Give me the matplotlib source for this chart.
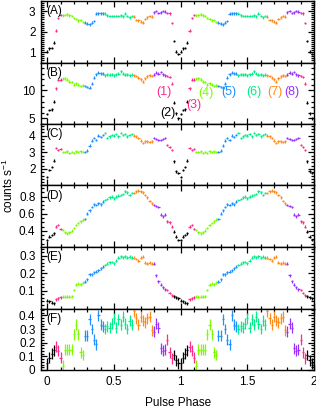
import numpy as np
import matplotlib.pyplot as plt
from matplotlib.ticker import MultipleLocator, FixedLocator, FuncFormatter

plt.rcParams['font.family'] = ['Liberation Sans', 'DejaVu Sans']
plt.rcParams['mathtext.fontset'] = 'custom'
plt.rcParams['mathtext.rm'] = 'Liberation Sans'
plt.rcParams['mathtext.default'] = 'regular'

# one pulse cycle, 60 phase bins (plotted twice)
n_bins = 60

rate_a = [1.03, 1.19, 1.22, 1.47, 2.05, 2.66, 2.82, 2.80, 2.82, 2.85,
          2.80, 2.78, 2.68, 2.62, 2.55, 2.58, 2.48, 2.45, 2.40, 2.36,
          2.45, 2.52, 2.88, 2.90, 2.90, 2.90, 2.88, 2.80, 2.78, 2.78,
          2.76, 2.78, 2.76, 2.80, 2.75, 2.88, 2.76, 2.70, 2.76, 2.74,
          2.58, 2.55, 2.50, 2.45, 2.62, 2.70, 2.78, 2.74, 2.95, 3.00,
          2.92, 2.95, 3.02, 2.98, 2.92, 2.90, 2.44, 1.56, 1.03, 0.91]
rate_b = [5.8, 6.5, 6.6, 8.0, 10.4, 11.9, 11.9, 12.1, 12.2, 11.9,
          11.6, 11.5, 11.0, 11.3, 11.0, 10.8, 10.9, 10.8, 10.6, 10.5,
          11.2, 12.3, 12.9, 13.2, 13.1, 13.0, 12.7, 12.9, 12.8, 12.9,
          12.7, 12.9, 13.0, 13.4, 13.0, 12.8, 12.9, 12.7, 12.8, 12.7,
          12.6, 12.3, 12.0, 11.6, 12.2, 12.5, 12.7, 12.6, 12.8, 13.2,
          13.0, 13.3, 12.9, 12.7, 12.6, 12.4, 11.2, 7.8, 5.9, 5.0]
rate_c = [1.50, 1.95, 2.10, 2.50, 3.25, 3.15, 3.20, 3.00, 3.00, 3.05,
          2.95, 3.00, 2.95, 3.05, 3.00, 3.05, 3.02, 3.00, 3.10, 3.40,
          3.70, 3.85, 3.75, 4.00, 3.90, 4.05, 4.15, 3.85, 3.95, 4.05,
          4.00, 4.10, 3.95, 4.15, 4.05, 4.10, 3.95, 4.05, 4.10, 4.00,
          3.95, 3.85, 3.70, 3.55, 3.65, 3.65, 3.60, 3.65, 3.85, 3.80,
          3.75, 3.72, 3.80, 3.85, 3.45, 3.30, 3.15, 2.45, 1.85, 1.75]
rate_d = [0.29, 0.33, 0.35, 0.37, 0.45, 0.47, 0.42, 0.41, 0.38, 0.37,
          0.38, 0.40, 0.43, 0.47, 0.49, 0.51, 0.53, 0.54, 0.60, 0.64,
          0.68, 0.71, 0.70, 0.72, 0.71, 0.74, 0.76, 0.77, 0.79, 0.80,
          0.78, 0.80, 0.81, 0.82, 0.83, 0.86, 0.85, 0.82, 0.84, 0.84,
          0.86, 0.87, 0.86, 0.85, 0.82, 0.79, 0.75, 0.72, 0.70, 0.69,
          0.68, 0.59, 0.57, 0.59, 0.51, 0.50, 0.45, 0.39, 0.33, 0.29]
rate_e = [0.045, 0.040, 0.033, 0.030, 0.052, 0.058, 0.063, 0.067, 0.067, 0.068,
          0.068, 0.070, 0.105, 0.135, 0.140, 0.138, 0.147, 0.153, 0.166, 0.195,
          0.195, 0.205, 0.210, 0.218, 0.228, 0.238, 0.248, 0.255, 0.262, 0.265,
          0.258, 0.272, 0.290, 0.296, 0.292, 0.298, 0.288, 0.295, 0.290, 0.288,
          0.282, 0.272, 0.290, 0.295, 0.260, 0.255, 0.260, 0.255, 0.255, 0.190,
          0.155, 0.135, 0.120, 0.110, 0.105, 0.088, 0.075, 0.070, 0.064, 0.058]
rate_f = [0.05, 0.09, 0.12, 0.145, 0.17, 0.14, 0.09, 0.03, 0.15, 0.15,
          0.15, 0.15, 0.26, 0.33, 0.26, 0.13, 0.11, 0.25, 0.25, 0.37,
          0.30, 0.22, 0.19, 0.40, 0.33, 0.32, 0.30, 0.32, 0.31, 0.34,
          0.38, 0.31, 0.37, 0.33, 0.39, 0.34, 0.30, 0.36, 0.33, 0.43,
          0.38, 0.33, 0.39, 0.36, 0.35, 0.38, 0.39, 0.29, 0.28, 0.34,
          0.31, 0.16, 0.14, 0.15, 0.22, 0.13, 0.085, 0.11, 0.07, 0.05]

errors = [0.06, 0.25, 0.07, 0.015, 0.008, 0.04]
ylims = [(0.5, 3.5), (4, 15), (1.0, 4.7), (0.21, 0.93), (0.0, 0.35), (0.0, 0.45)]
yticks = [[1, 2, 3], [5, 10], [2, 3, 4], [0.4, 0.6, 0.8], [0.1, 0.2, 0.3],
          [0, 0.1, 0.2, 0.3, 0.4]]
minor = [0.1, 1, 0.2, 0.05, 0.02, 0.02]
panel_names = ['(A)', '(B)', '(C)', '(D)', '(E)', '(F)']

# phase intervals: first bin index of each coloured interval
seg_start = [0, 4, 7, 17, 26, 39, 48, 54, 57]
seg_colors = ['black', '#ff2a8a', '#7cfc00', '#1e90ff', '#00ee88',
              '#ff8c1a', '#9932ff', '#ff2a8a', 'black']

seg_labels = ['(1)', '(2)', '(3)', '(4)', '(5)', '(6)', '(7)', '(8)']
label_x = [0.875, 0.905, 1.10, 1.19, 1.36, 1.55, 1.71, 1.83]
label_y = [9.7, 6.0, 7.4, 9.5, 9.7, 9.7, 9.7, 9.7]
label_colors = ['#ff2a8a', 'black', '#ff2a8a', '#7cfc00', '#1e90ff',
                '#00ee88', '#ff8c1a', '#9932ff']

rates = [rate_a, rate_b, rate_c, rate_d, rate_e, rate_f]

fig = plt.figure(figsize=(3.16, 4.09), dpi=100)
axes = fig.subplots(6, 1, sharex=True, gridspec_kw=dict(hspace=0))
fig.subplots_adjust(left=41/316, right=314/316, top=1 - 1/409, bottom=1 - 370/409)

phase = np.arange(n_bins) / n_bins
bounds = seg_start + [n_bins]
fmt = FuncFormatter(lambda v, p: '%g' % v)

for k, ax in enumerate(axes):
    y = np.array(rates[k])
    for cycle in (0, 1):
        for s in range(len(seg_start)):
            lo, hi = bounds[s], bounds[s + 1]
            ax.errorbar(phase[lo:hi] + cycle, y[lo:hi], xerr=0.5 / n_bins,
                        yerr=errors[k], fmt='none', ecolor=seg_colors[s],
                        elinewidth=0.9, capsize=0)
    ax.set_ylim(*ylims[k])
    ax.set_xlim(-0.047, 2.0)
    ax.yaxis.set_major_locator(FixedLocator(yticks[k]))
    ax.yaxis.set_major_formatter(fmt)
    ax.yaxis.set_minor_locator(MultipleLocator(minor[k]))
    ax.xaxis.set_major_locator(MultipleLocator(0.5))
    ax.xaxis.set_minor_locator(MultipleLocator(0.1))
    ax.xaxis.set_major_formatter(fmt)
    ax.tick_params(which='both', direction='in', top=True, right=True,
                   labelsize=8.5, width=0.9)
    ax.tick_params(which='major', length=4.5, pad=4)
    ax.tick_params(which='minor', length=2.2)
    for sp in ax.spines.values():
        sp.set_linewidth(1.0)
    ax.text(0.018, 0.83, panel_names[k], transform=ax.transAxes,
            ha='left', va='center', fontsize=8.5)

for lab, lx, ly, lc in zip(seg_labels, label_x, label_y, label_colors):
    axes[1].text(lx, ly, lab, color=lc, ha='center', va='center', fontsize=9)

fig.text(0.027, 0.547, r'counts s$^{-1}$', rotation=90, ha='center',
         va='center', fontsize=8.5)
fig.text(0.562, 0.015, 'Pulse Phase', ha='center', va='center', fontsize=8.5)

fig.savefig('out.png', dpi=100)
